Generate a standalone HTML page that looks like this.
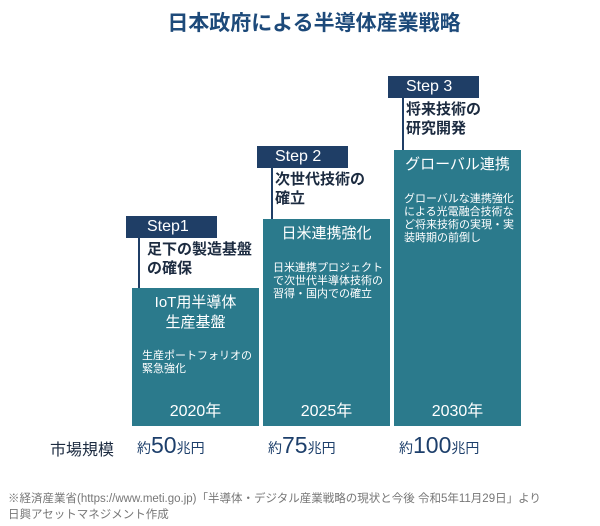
<!DOCTYPE html>
<html><head><meta charset="utf-8">
<style>
body{margin:0;width:600px;height:526px;background:#fff;position:relative;overflow:hidden;font-family:"Liberation Sans","Noto Sans CJK JP",sans-serif;}
.a{position:absolute;}
.bar{position:absolute;background:#2b7a8c;color:#fff;}
.step{position:absolute;background:#1f3e66;color:#fff;font-size:16px;line-height:22px;}
.vl{position:absolute;width:2px;background:#1f3e66;}
.goal{position:absolute;color:#1c2b40;font-size:15px;line-height:19px;font-weight:bold;}
</style></head><body>
<div class="a" style="left:0;width:628px;top:7px;text-align:center;font-size:21px;font-weight:bold;color:#1d4a7a;">日本政府による半導体産業戦略</div>
<div id="chart"></div>
<div class="a" style="left:50px;top:436px;font-size:16px;color:#1c2b40;">市場規模</div>
<div class="a" style="left:8px;top:491px;font-size:11.5px;line-height:16px;color:#777;">※経済産業省(https://www.meti.go.jp)「半導体・デジタル産業戦略の現状と今後 令和5年11月29日」より<br>日興アセットマネジメント作成</div>
<script>
const years=["2020年","2025年","2030年"];
const market=[50,75,100];
const stepLabels=["Step1","Step 2","Step 3"];
const goals=["足下の製造基盤<br>の確保","次世代技術の<br>確立","将来技術の<br>研究開発"];
const titles=["IoT用半導体<br>生産基盤","日米連携強化","グローバル連携"];
const descs=["生産ポートフォリオの<br>緊急強化","日米連携プロジェクト<br>で次世代半導体技術の<br>習得・国内での確立","グローバルな連携強化<br>による光電融合技術な<br>ど将来技術の実現・実<br>装時期の前倒し"];
const base=426, scale=2.76;
const xs=i=>132+i*131, bw=127;
const y=v=>base-v*scale;
const c=document.getElementById('chart');
years.forEach((yr,i)=>{
  const top=y(market[i]);
  const b=document.createElement('div');b.className='bar';
  
  
  b.style.left=xs(i)+'px';b.style.width=bw+'px';b.style.top=top+'px';b.style.height=(base-top)+'px';
  b.innerHTML='<div style="text-align:center;font-size:15px;line-height:20px;margin-top:5px">'+titles[i]+'</div>'+
   '<div style="font-size:11px;line-height:13px;margin:'+(i==0?17:18)+'px 0 0 10px">'+descs[i]+'</div>'+
   '<div style="position:absolute;bottom:5px;width:100%;text-align:center;font-size:16px">'+yr+'</div>';
  c.appendChild(b);
  const s=document.createElement('div');s.className='step';
  
  
  s.style.left=(xs(i)-6)+'px';s.style.top=(top-72-i)+'px';s.style.width='91px';
  s.innerHTML='<span style="padding-left:'+(i==0?21:18)+'px">'+stepLabels[i]+'</span>';
  c.appendChild(s);
  const l=document.createElement('div');l.className='vl';
  
  
  l.style.left=(xs(i)+(i==0?6:8))+'px';l.style.top=(top-50-i)+'px';l.style.height=(50+i)+'px';
  c.appendChild(l);
  const g=document.createElement('div');g.className='goal';
  
  
  g.style.left=(xs(i)+(i==0?7:4)+8)+'px';g.style.top=(top-48-i)+'px';
  g.innerHTML=goals[i];
  c.appendChild(g);
  const m=document.createElement('div');m.className='a';
  
  
  m.style.left=(xs(i)+5)+'px';m.style.top='432px';m.style.color='#1d3f6b';m.style.whiteSpace='nowrap';
  m.innerHTML='<span style="font-size:14px">約</span><span style="font-size:23px">'+market[i]+'</span><span style="font-size:14px">兆円</span>';
  c.appendChild(m);
});
</script>
</body></html>
